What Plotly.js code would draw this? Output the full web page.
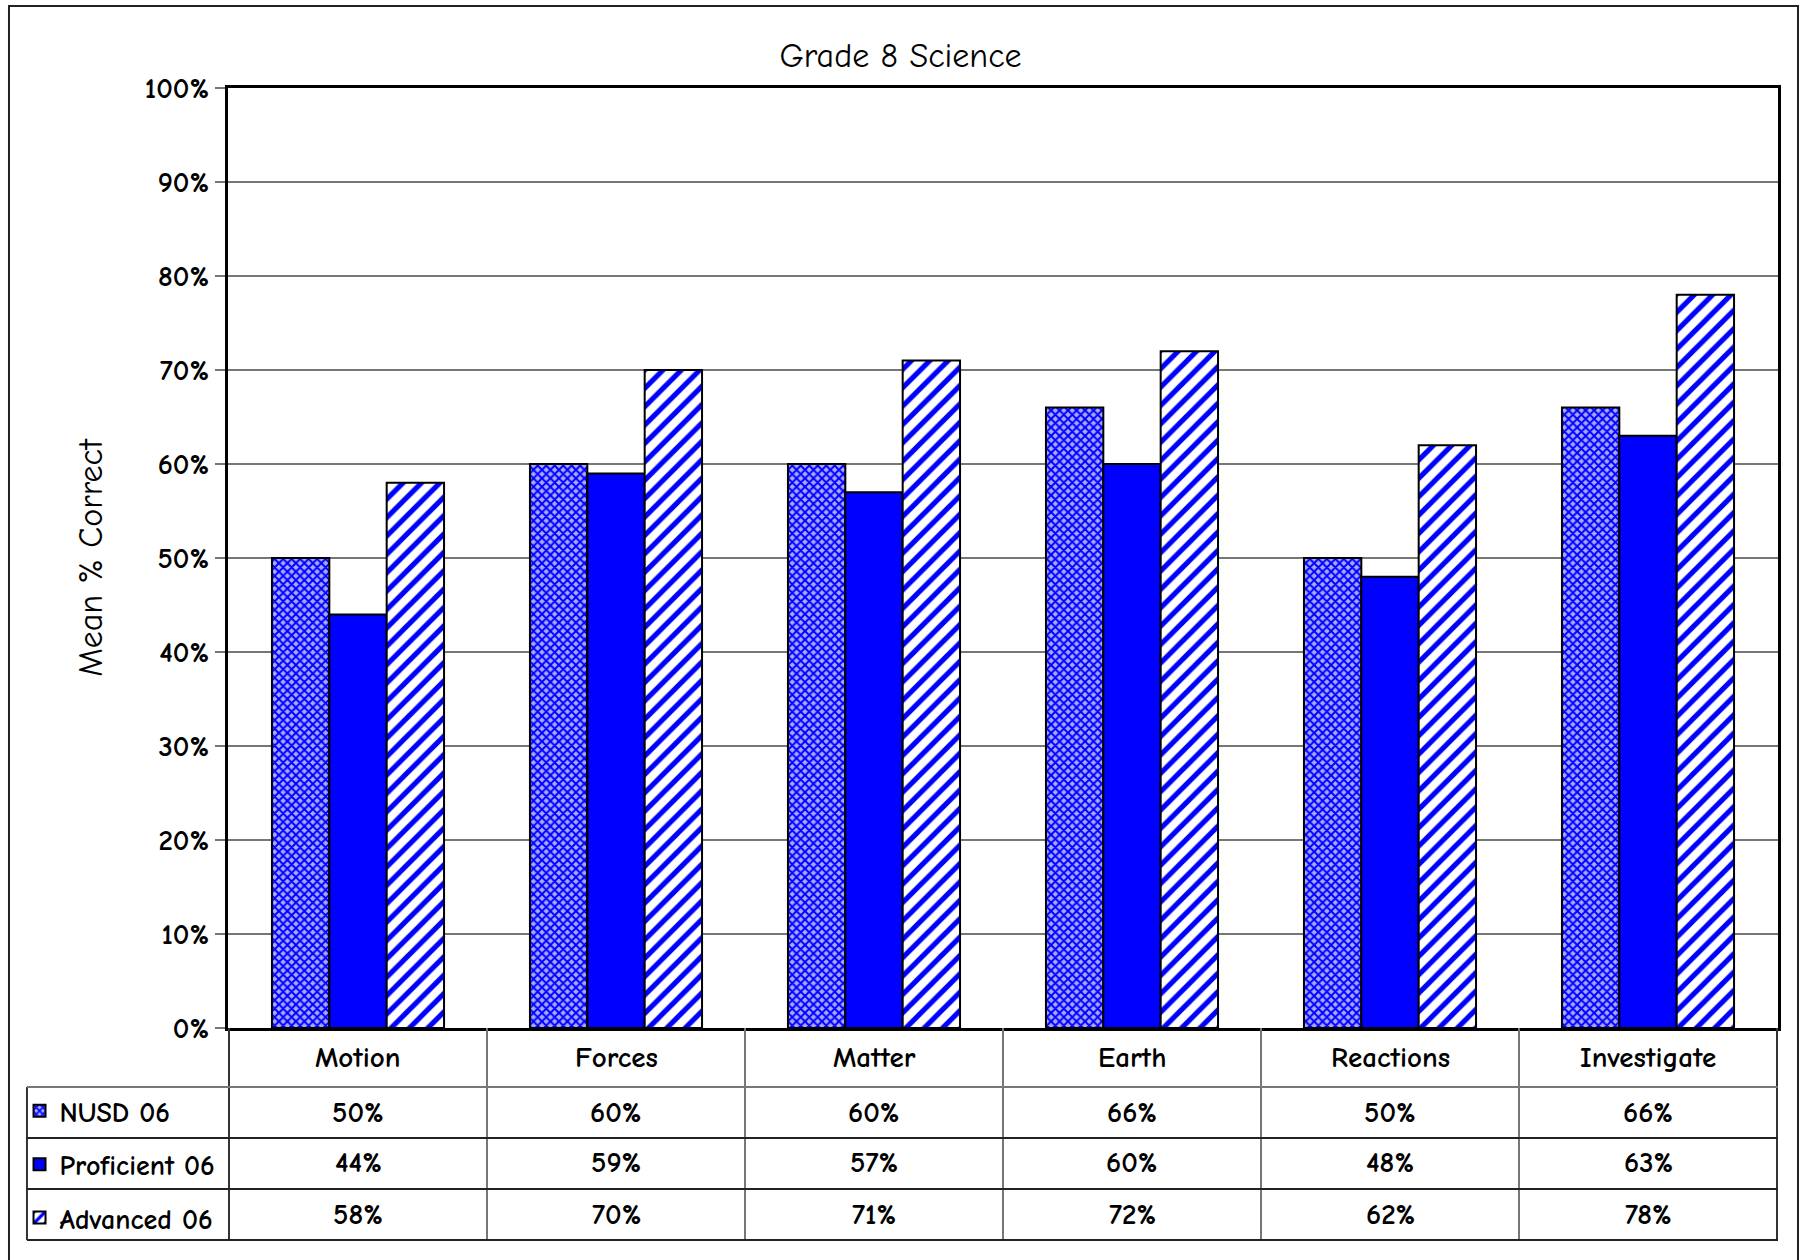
<!DOCTYPE html>
<html>
<head>
<meta charset="utf-8">
<script src="https://cdn.plot.ly/plotly-3.0.1.min.js"></script>
<style>html,body{margin:0;padding:0;background:#fff;}</style>
</head>
<body>
<div id="chart" style="width:1801px;height:1260px;"></div>
<script>
const categories = ["Motion", "Forces", "Matter", "Earth", "Reactions", "Investigate"];
const seriesNames = ["NUSD 06", "Proficient 06", "Advanced 06"];
const nusd = [0.50, 0.60, 0.60, 0.66, 0.50, 0.66];
const proficient = [0.44, 0.59, 0.57, 0.60, 0.48, 0.63];
const advanced = [0.58, 0.70, 0.71, 0.72, 0.62, 0.78];
const yTicks = [0, 0.1, 0.2, 0.3, 0.4, 0.5, 0.6, 0.7, 0.8, 0.9, 1.0];

const FONT = "'Comic Sans MS', 'Comic Neue', 'Noto Sans', sans-serif";
const allSeries = [nusd, proficient, advanced];

const traces = [
  {
    type: 'bar', name: seriesNames[0], x: categories, y: nusd, legendgroup: 'a',
    marker: {color: '#5555ff', line: {color: '#000', width: 2},
      pattern: {shape: 'x', fgcolor: '#0000ff', bgcolor: '#a8a8ff', size: 6, solidity: 0.55, fillmode: 'replace'}}
  },
  {
    type: 'bar', name: seriesNames[1], x: categories, y: proficient, legendgroup: 'b',
    marker: {color: '#0000ff', line: {color: '#000', width: 2}}
  },
  {
    type: 'bar', name: seriesNames[2], x: categories, y: advanced, legendgroup: 'c',
    marker: {color: '#ffffff', line: {color: '#000', width: 2},
      pattern: {shape: '/', fgcolor: '#0000ff', bgcolor: '#ffffff', size: 13, solidity: 0.4, fillmode: 'replace'}}
  }
];

// table geometry in paper units (plot area height = 940px)
const rowCenters = [-0.0309, -0.0894, -0.1436, -0.1979];
const rowLines = [-0.0628, -0.1170, -0.1713, -0.2255];
const legendLeft = -0.1297;

const annotations = [];
categories.forEach((c, i) => {
  annotations.push({xref: 'x', yref: 'paper', x: c, y: rowCenters[0], text: '<b>' + c + '</b>',
    showarrow: false, font: {family: FONT, size: 29, color: '#000'}, xanchor: 'center', yanchor: 'middle'});
  allSeries.forEach((s, k) => {
    annotations.push({xref: 'x', yref: 'paper', x: c, y: rowCenters[k + 1],
      text: '<b>' + Math.round(s[i] * 100) + '%</b>',
      showarrow: false, font: {family: FONT, size: 29, color: '#000'}, xanchor: 'center', yanchor: 'middle'});
  });
});

const shapes = [];
// outer frame (bottom edge falls off the canvas)
shapes.push({type: 'rect', xref: 'paper', yref: 'paper', x0: -0.1413, x1: 1.0129, y0: -0.32, y1: 1.0872,
  line: {color: '#222', width: 2}, fillcolor: 'rgba(0,0,0,0)', layer: 'below'});
// vertical table lines
for (let i = 0; i <= categories.length; i++) {
  shapes.push({type: 'line', xref: 'x', yref: 'paper', x0: i - 0.5, x1: i - 0.5, y0: 0, y1: rowLines[3],
    line: {color: (i === 0 || i === categories.length) ? '#333' : '#777', width: 2}});
}
// left border of legend column
shapes.push({type: 'line', xref: 'paper', yref: 'paper', x0: legendLeft, x1: legendLeft, y0: rowLines[0], y1: rowLines[3],
  line: {color: '#333', width: 2}});
// horizontal table lines
rowLines.forEach((y, k) => {
  shapes.push({type: 'line', xref: 'paper', yref: 'paper', x0: legendLeft, x1: 1, y0: y, y1: y,
    line: {color: k === 0 ? '#777' : '#222', width: 2}});
});

const layout = {
  width: 1801, height: 1260,
  margin: {l: 228, r: 23, t: 88, b: 232},
  paper_bgcolor: '#fff', plot_bgcolor: '#fff',
  font: {family: FONT, color: '#000'},
  title: {text: 'Grade 8 Science', font: {family: FONT, size: 34, color: '#000'}, x: 0.5, xanchor: 'center',
    y: 0.956, yanchor: 'middle'},
  barmode: 'group', bargap: 0.333, bargroupgap: 0,
  showlegend: true,
  legend: {x: -0.1345, xanchor: 'left', y: rowLines[0] + 0.001, yanchor: 'top', orientation: 'v',
    font: {family: FONT, size: 28, color: '#000', weight: 'bold'}, tracegroupgap: 14, bgcolor: 'rgba(0,0,0,0)',
    itemwidth: 30, traceorder: 'grouped'},
  xaxis: {type: 'category', showticklabels: false, ticks: '', showgrid: false, zeroline: false,
    showline: true, linecolor: '#000', linewidth: 3, mirror: true, fixedrange: true},
  yaxis: {range: [0, 1], tickvals: yTicks, tickformat: '.0%', ticks: 'outside', ticklen: 10, tickcolor: '#777',
    tickwidth: 2, showgrid: true, gridcolor: '#777', gridwidth: 1.5, zeroline: false,
    showline: true, linecolor: '#000', linewidth: 3, mirror: true,
    tickfont: {family: FONT, size: 29, color: '#000', weight: 'bold'},
    title: {text: 'Mean % Correct', font: {family: FONT, size: 34, color: '#000'}, standoff: 32}},
  annotations: annotations,
  shapes: shapes
};

Plotly.newPlot('chart', traces, layout, {displayModeBar: false, staticPlot: true});
</script>
</body>
</html>
